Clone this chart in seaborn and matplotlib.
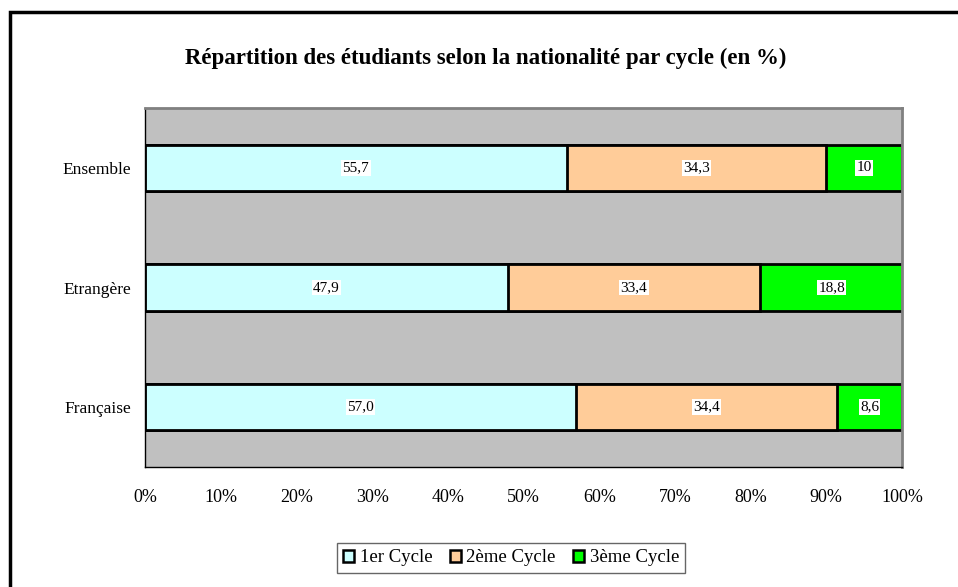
import numpy as np
import pandas as pd
import matplotlib
matplotlib.use("Agg")
import matplotlib.pyplot as plt
import seaborn as sns
from matplotlib.patches import Rectangle, Patch

nationalites = ["Ensemble", "Etrangère", "Française"]
cycle1 = [55.7, 47.9, 57.0]
cycle2 = [34.3, 33.4, 34.4]
cycle3 = [10.0, 18.8, 8.6]
labels1 = ["55,7", "47,9", "57,0"]
labels2 = ["34,3", "33,4", "34,4"]
labels3 = ["10", "18,8", "8,6"]
series = ["1er Cycle", "2ème Cycle", "3ème Cycle"]
couleurs = ["#CCFFFF", "#FFCC99", "#00FF00"]

sns.set_style("white")
plt.rcParams["font.family"] = ["Liberation Serif", "DejaVu Serif"]
plt.rcParams["text.color"] = "black"
plt.rcParams["xtick.color"] = "black"
plt.rcParams["ytick.color"] = "black"

df = pd.DataFrame({"nat": nationalites, "c1": cycle1, "c2": cycle2, "c3": cycle3})
df["s1"] = df["c1"]
df["s2"] = df["c1"] + df["c2"]
df["s3"] = df["s2"] + df["c3"]

fig = plt.figure(figsize=(9.58, 5.87), dpi=100)
ax = fig.add_axes([145/958, 1-467/587, (902-145)/958, (467-108)/587])
ax.set_facecolor("#C0C0C0")

# stacked: draw the cumulative totals from largest to smallest
for col, c in zip(["s3", "s2", "s1"], couleurs[::-1]):
    sns.barplot(data=df, y="nat", x=col, order=nationalites, color=c,
                width=0.385, edgecolor="black", linewidth=2, saturation=1, ax=ax)

# labels in the middle of each segment
for i in range(3):
    starts = [0, cycle1[i], cycle1[i] + cycle2[i]]
    vals = [cycle1[i], cycle2[i], cycle3[i]]
    txts = [labels1[i], labels2[i], labels3[i]]
    for s, v, t in zip(starts, vals, txts):
        ax.text(s + v / 2, i, t, ha="center", va="center", fontsize=11,
                bbox=dict(facecolor="white", edgecolor="none", pad=1))

ax.set_xlim(0, 100)
ax.set_ylim(2.5, -0.5)
ax.set_xticks(np.arange(0, 101, 10))
ax.set_xticklabels([f"{v}%" for v in range(0, 101, 10)], fontsize=13)
ax.set_yticks([0, 1, 2])
ax.set_yticklabels(nationalites, fontsize=12.5)
ax.set_yticks([-0.5, 0.5, 1.5, 2.5], minor=True)
ax.tick_params(axis="y", which="major", length=0, pad=10)
ax.tick_params(axis="y", which="minor", length=6, direction="out", color="black", width=1)
ax.tick_params(axis="x", length=6, direction="out", color="black", width=1, pad=10)
ax.set_xlabel("")
ax.set_ylabel("")
for side in ["top", "right"]:
    ax.spines[side].set_color("#808080")
    ax.spines[side].set_linewidth(2)
for side in ["left", "bottom"]:
    ax.spines[side].set_color("black")
    ax.spines[side].set_linewidth(1)

fig.text(486/958, 1-58/587, "Répartition des étudiants selon la nationalité par cycle (en %)",
         ha="center", va="center", fontsize=16.5, fontweight="bold")

handles = [Patch(facecolor=c, edgecolor="black", linewidth=1.8) for c in couleurs]
fig.legend(handles, series, loc="center", bbox_to_anchor=(511/958, 1-558/587),
           ncol=3, frameon=True, fancybox=False, edgecolor="#404040", fontsize=13.5,
           handlelength=0.6, handleheight=0.6, handletextpad=0.3, columnspacing=0.9,
           borderpad=0.35)

fig.patches.append(Rectangle((10/958, -0.05), 1.1, 1 - 12/587 + 0.05,
                             transform=fig.transFigure, fill=False,
                             edgecolor="black", linewidth=2.5))

fig.savefig("out.png", dpi=100)
